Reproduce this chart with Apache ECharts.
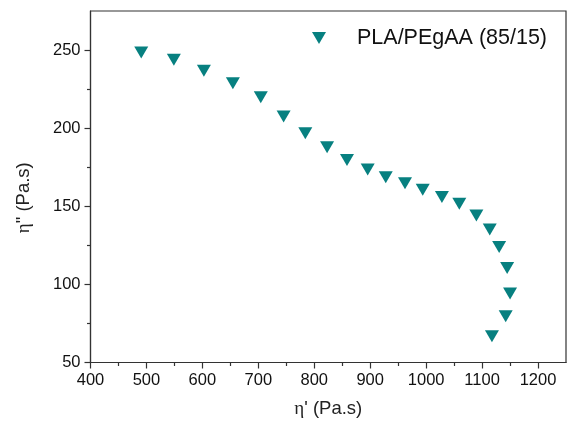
<!DOCTYPE html>
<html>
<head>
<meta charset="utf-8">
<script src="https://cdn.jsdelivr.net/npm/echarts@6/dist/echarts.min.js"></script>
<style>
html,body{margin:0;padding:0;background:#fff;}
#chart{width:568px;height:428px;}
</style>
</head>
<body>
<div id="chart"></div>
<script>
// Data
var seriesName = 'PLA/PEgAA (85/15)';
var etaPrime = [490.7, 549, 602.7, 654.5, 704.4, 745.2, 784, 822.9, 858.5, 895.5, 927.8, 962.2, 993.9, 1028.2, 1059.3, 1089.8, 1113.7, 1130.5, 1144.8, 1150, 1142.2, 1117.6];
var etaDoublePrime = [248.5, 243.8, 236.8, 228.7, 219.8, 207.4, 196.8, 187.8, 179.7, 173.5, 168.6, 164.8, 160.5, 155.9, 151.6, 144.1, 135.2, 123.9, 110.5, 94.1, 79.6, 66.8];
var xTicks = [400, 500, 600, 700, 800, 900, 1000, 1100, 1200];
var xMinorTicks = [450, 550, 650, 750, 850, 950, 1050, 1150];
var yTicks = [50, 100, 150, 200, 250];
var yMinorTicks = [75, 125, 175, 225];
var xTitle = '{e|η}\' (Pa.s)';
var yTitle = '{e|η}" (Pa.s)';

var points = etaPrime.map(function (x, i) { return [x, etaDoublePrime[i]]; });

var font = 'Liberation Sans, Arial, sans-serif';
var axisColor = '#333';
var markerColor = '#078080';
var tri = 'path://M0,0L14,0L7,12Z';
var plain = function (v) { return String(v); };

var chart = echarts.init(document.getElementById('chart'), null, {renderer: 'canvas'});

var baseX = {
  type: 'value', min: 400, max: 1250, gridIndex: 0,
  splitLine: {show: false}
};
var baseY = {
  type: 'value', min: 50, max: 275, gridIndex: 0,
  splitLine: {show: false}
};

chart.setOption({
  animation: false,
  backgroundColor: '#fff',
  grid: {left: 90.5, right: 2, top: 11, bottom: 65.5, show: true, borderColor: axisColor, borderWidth: 1.2, backgroundColor: 'transparent'},
  legend: {
    left: 312, top: 26, padding: 0,
    itemWidth: 14, itemHeight: 12,
    icon: tri,
    data: [seriesName],
    textStyle: {fontFamily: font, fontSize: 21.5, color: '#111', padding: [0, 0, 0, 26], lineHeight: 24}
  },
  xAxis: [
    Object.assign({}, baseX, {
      position: 'bottom',
      name: xTitle, nameLocation: 'middle', nameGap: 37,
      nameTextStyle: {fontFamily: font, fontSize: 18.5, color: '#222',
        rich: {e: {fontFamily: 'Liberation Serif, Times New Roman, serif', fontSize: 19, color: '#222'}}},
      axisLine: {show: true, onZero: false, lineStyle: {color: axisColor, width: 1.2}},
      axisTick: {show: true, inside: false, length: 6, customValues: xTicks, lineStyle: {color: axisColor, width: 1.2}},
      axisLabel: {show: true, margin: 9, customValues: xTicks, formatter: plain, fontFamily: font, fontSize: 16.5, color: '#111'}
    }),
    Object.assign({}, baseX, {
      position: 'bottom',
      axisLine: {show: false},
      axisTick: {show: true, inside: false, length: 3.5, customValues: xMinorTicks, lineStyle: {color: axisColor, width: 1.2}},
      axisLabel: {show: false}
    })
  ],
  yAxis: [
    Object.assign({}, baseY, {
      position: 'left',
      name: yTitle, nameLocation: 'middle', nameGap: 57, nameRotate: 90,
      nameTextStyle: {fontFamily: font, fontSize: 18.5, color: '#222', padding: [0, 22, 0, 0],
        rich: {e: {fontFamily: 'Liberation Serif, Times New Roman, serif', fontSize: 19, color: '#222'}}},
      axisLine: {show: true, onZero: false, lineStyle: {color: axisColor, width: 1.2}},
      axisTick: {show: true, inside: false, length: 6, customValues: yTicks, lineStyle: {color: axisColor, width: 1.2}},
      axisLabel: {show: true, margin: 10, customValues: yTicks, formatter: plain, fontFamily: font, fontSize: 16.5, color: '#111'}
    }),
    Object.assign({}, baseY, {
      position: 'left',
      axisLine: {show: false},
      axisTick: {show: true, inside: false, length: 3.5, customValues: yMinorTicks, lineStyle: {color: axisColor, width: 1.2}},
      axisLabel: {show: false}
    })
  ],
  series: [{
    name: seriesName,
    type: 'scatter',
    xAxisIndex: 0, yAxisIndex: 0,
    symbol: tri,
    symbolSize: [14, 12],
    itemStyle: {color: markerColor, opacity: 1},
    data: points
  }]
});
</script>
</body>
</html>
